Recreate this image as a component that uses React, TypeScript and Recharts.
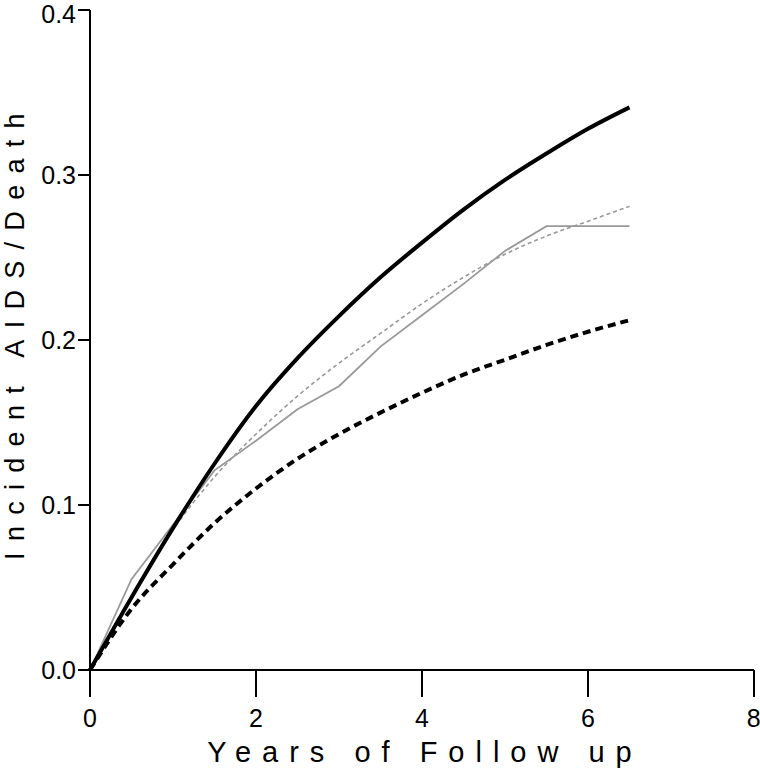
import { Label, Line, LineChart, XAxis, YAxis } from "recharts";

const years = [0, 0.5, 1, 1.5, 2, 2.5, 3, 3.5, 4, 4.5, 5, 5.5, 6, 6.5];
const modelA = [0, 0.044, 0.086, 0.125, 0.16, 0.189, 0.2145, 0.238, 0.259, 0.279, 0.297, 0.313, 0.328, 0.341];
const modelB = [0, 0.037, 0.064, 0.089, 0.11, 0.128, 0.143, 0.156, 0.168, 0.179, 0.188, 0.197, 0.205, 0.212];
const observed = [0, 0.055, 0.088, 0.121, 0.139, 0.158, 0.172, 0.196, 0.215, 0.234, 0.254, 0.269, 0.269, 0.269];
const fitted = [0, 0.045, 0.085, 0.117, 0.143, 0.166, 0.186, 0.204, 0.222, 0.238, 0.252, 0.263, 0.272, 0.281];

const xTicks = [0, 2, 4, 6, 8];
const yTicks = [0, 0.1, 0.2, 0.3, 0.4];

const data = years.map((t, i) => ({
    t,
    modelA: modelA[i],
    modelB: modelB[i],
    observed: observed[i],
    fitted: fitted[i],
}));

const FONT = "'Liberation Sans', Arial, Helvetica, sans-serif";
const TICK = { fill: "#000", fontSize: 25, fontFamily: FONT };
const AXIS_LINE = { stroke: "#000", strokeWidth: 2 };

export default function App() {
    return (
        <div style={{ position: "absolute", left: 0, top: 0, background: "#fff" }}>
            <LineChart width={760} height={769} data={data} margin={{ top: 10, right: 6, left: 0, bottom: 0 }}>
                <XAxis
                    dataKey="t"
                    type="number"
                    domain={[0, 8]}
                    ticks={xTicks}
                    tick={TICK}
                    tickSize={27}
                    tickMargin={12}
                    height={99}
                    axisLine={AXIS_LINE}
                    tickLine={AXIS_LINE}
                >
                    <Label
                        content={() => (
                            <text x={425} y={762} textAnchor="middle" fontFamily={FONT} fontSize={29}
                                letterSpacing={11} fill="#000">
                                Years of Follow up
                            </text>
                        )}
                    />
                </XAxis>
                <YAxis
                    type="number"
                    domain={[0, 0.4]}
                    ticks={yTicks}
                    tickFormatter={(v: number) => v.toFixed(1)}
                    tick={TICK}
                    tickSize={12}
                    tickMargin={2}
                    width={90}
                    axisLine={AXIS_LINE}
                    tickLine={AXIS_LINE}
                >
                    <Label
                        content={() => (
                            <text x={24} y={331} transform="rotate(-90 24 331)" textAnchor="middle"
                                fontFamily={FONT} fontSize={27} letterSpacing={11.3} fill="#000">
                                Incident AIDS/Death
                            </text>
                        )}
                    />
                </YAxis>
                <Line dataKey="modelB" type="monotone" stroke="#000" strokeWidth={4}
                    strokeDasharray="8 5" dot={false} isAnimationActive={false} />
                <Line dataKey="fitted" type="monotone" stroke="#999" strokeWidth={1.6}
                    strokeDasharray="4 3" dot={false} isAnimationActive={false} />
                <Line dataKey="observed" type="linear" stroke="#999" strokeWidth={1.8}
                    dot={false} isAnimationActive={false} />
                <Line dataKey="modelA" type="monotone" stroke="#000" strokeWidth={4}
                    dot={false} isAnimationActive={false} />
            </LineChart>
        </div>
    );
}
